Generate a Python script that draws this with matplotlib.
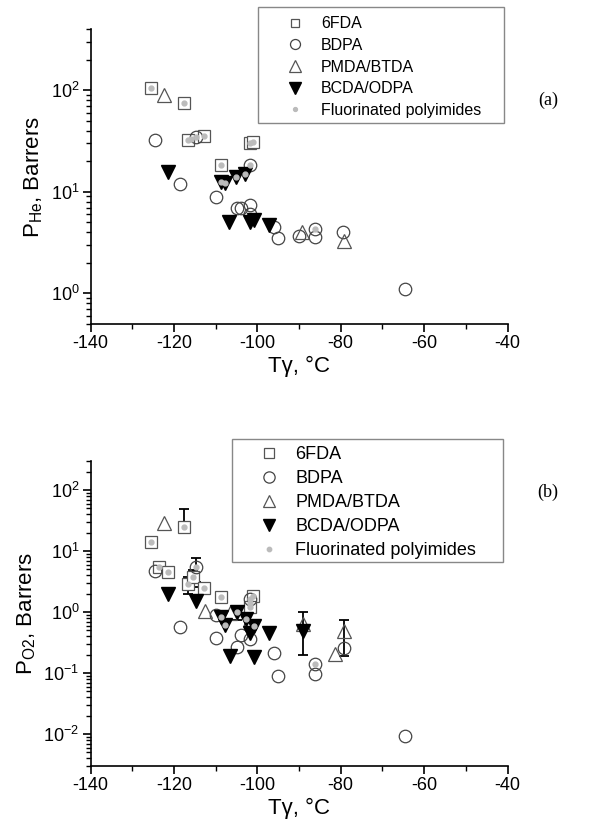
import matplotlib
matplotlib.use("Agg")
import matplotlib.pyplot as plt
from matplotlib.patches import Rectangle
import numpy as np

plt.rcParams['font.family'] = ['Liberation Sans', 'DejaVu Sans']
plt.rcParams['mathtext.fontset'] = 'custom'
plt.rcParams['mathtext.rm'] = 'Liberation Sans'
plt.rcParams['mathtext.it'] = 'Liberation Sans:italic'
plt.rcParams['axes.unicode_minus'] = False

# ---- (a) P_He vs Tgamma ----
a_6fda_x = [-125.5, -117.6, -116.6, -112.7, -101.8, -101.0, -108.8]
a_6fda_y = [106, 75.5, 32.7, 35.8, 29.9, 31.0, 18.5]

a_bdpa_x = [-124.6, -114.8, -101.8, -118.6, -109.8, -104.8, -103.8, -101.8, -101.8,
            -95.9, -95.0, -90.1, -86.2, -86.2, -79.4, -64.7]
a_bdpa_y = [32, 34.8, 18.5, 11.9, 8.86, 7.0, 7.0, 7.43, 6.0,
            4.54, 3.53, 3.67, 4.3, 3.6, 4.05, 1.1]

a_pmda_x = [-122.4, -89.2, -79.3]
a_pmda_y = [89.9, 4.05, 3.3]

a_bcda_x = [-121.5, -108.7, -107.8, -105.0, -103.0, -106.7, -101.8, -100.9, -97.1]
a_bcda_y = [15.7, 12.5, 12.2, 13.9, 15.1, 5.08, 5.08, 5.28, 4.71]

a_fluor_x = a_6fda_x + [-114.8, -101.8, -86.2] + [-108.7, -107.8, -105.0, -103.0] + [-116.0]
a_fluor_y = a_6fda_y + [34.8, 18.5, 4.3] + [12.5, 12.2, 13.9, 15.1] + [33.0]

# ---- (b) P_O2 vs Tgamma ----
b_6fda_x = [-117.6, -125.4, -123.6, -121.5, -116.6, -115.5, -112.7, -108.8, -101.0, -101.8]
b_6fda_y = [25, 14.2, 5.4, 4.5, 2.88, 3.79, 2.5, 1.74, 1.83, 1.19]

b_bdpa_x = [-124.6, -114.7, -101.8, -118.6, -109.8, -109.8, -104.8, -103.8, -101.8, -101.8,
            -96.0, -95.0, -86.2, -86.2, -79.3, -64.7]
b_bdpa_y = [4.75, 5.4, 1.63, 0.575, 0.89, 0.37, 0.264, 0.42, 0.6, 0.356,
            0.21, 0.091, 0.14, 0.095, 0.254, 0.0093]

b_pmda_x = [-122.4, -112.5, -106.6, -89.0, -79.3, -81.3]
b_pmda_y = [28.5, 1.04, 0.95, 0.64, 0.49, 0.205]

b_bcda_x = [-121.5, -114.7, -108.7, -107.8, -104.8, -102.8, -101.8, -97.1, -106.6, -100.8, -89.0, -100.8]
b_bcda_y = [1.95, 1.53, 0.84, 0.61, 1.0, 0.76, 0.46, 0.45, 0.19, 0.185, 0.49, 0.6]

b_fluor_x = b_6fda_x + [-114.7, -101.8, -101.8, -86.2] + [-108.7, -107.8, -104.8, -102.8, -100.8]
b_fluor_y = b_6fda_y + [5.4, 1.63, 1.4, 0.14] + [0.84, 0.61, 1.0, 0.76, 0.6]

# error bars (x, y, lower end, upper end)
b_err_x = [-117.6, -116.6, -115.5, -114.7, -104.8, -89.0, -79.3]
b_err_y = [25, 2.88, 3.79, 5.4, 1.0, 0.49, 0.49]
b_err_lo = [24, 1.97, 2.6, 3.1, 0.75, 0.2, 0.19]
b_err_hi = [49, 3.8, 4.88, 7.6, 1.1, 1.0, 0.74]

labels = ['6FDA', 'BDPA', 'PMDA/BTDA', 'BCDA/ODPA', 'Fluorinated polyimides']


def draw(ax, s6, sb, sp, sc, sf):
    ax.plot(*s6, ls='none', marker='s', ms=8, mfc='white', mec='#555555', mew=0.9, label=labels[0])
    ax.plot(*sb, ls='none', marker='o', ms=9, mfc='none', mec='#444444', mew=0.9, label=labels[1])
    ax.plot(*sp, ls='none', marker='^', ms=10, mfc='none', mec='#555555', mew=0.9, label=labels[2])
    ax.plot(*sc, ls='none', marker='v', ms=10, mfc='black', mec='black', label=labels[3])
    ax.plot(*sf, ls='none', marker='o', ms=3.5, mfc='#bbbbbb', mec='#bbbbbb', label=labels[4])


W, H = 589, 838
fig = plt.figure(figsize=[W / 100, H / 100], dpi=100)
ax1 = fig.add_axes([90.5 / W, 1 - 324 / H, 417 / W, 295 / H])
ax2 = fig.add_axes([90.5 / W, 1 - 766 / H, 417 / W, 305 / H])

draw(ax1, (a_6fda_x, a_6fda_y), (a_bdpa_x, a_bdpa_y), (a_pmda_x, a_pmda_y),
     (a_bcda_x, a_bcda_y), (a_fluor_x, a_fluor_y))

yl = np.array(b_err_y) - np.array(b_err_lo)
yh = np.array(b_err_hi) - np.array(b_err_y)
ax2.errorbar(b_err_x, b_err_y, yerr=[yl, yh], fmt='none', ecolor='black',
             elinewidth=1.3, capsize=3.5, capthick=1.3, zorder=1)
draw(ax2, (b_6fda_x, b_6fda_y), (b_bdpa_x, b_bdpa_y), (b_pmda_x, b_pmda_y),
     (b_bcda_x, b_bcda_y), (b_fluor_x, b_fluor_y))

for ax, ylim in [(ax1, (0.5, 400)), (ax2, (0.003, 300))]:
    ax.set_yscale('log')
    ax.set_ylim(*ylim)
    ax.set_xlim(-140, -40)
    ax.set_xticks(np.arange(-140, -39, 20))
    ax.set_xticks(np.arange(-130, -40, 20), minor=True)
    ax.spines['top'].set_visible(False)
    ax.spines['right'].set_visible(False)
    ax.spines['left'].set_linewidth(1.2)
    ax.spines['bottom'].set_linewidth(1.2)
    ax.tick_params(which='major', direction='out', length=6, width=1.2, labelsize=13, pad=2)
    ax.tick_params(which='minor', direction='out', length=3.5, width=1)
    ax.set_xlabel('T\u03b3, \u00b0C', fontsize=16, labelpad=3)

ax1.set_ylabel(r'P$_{\mathrm{He}}$, Barrers', fontsize=16, labelpad=4)
ax2.set_ylabel(r'P$_{\mathrm{O2}}$, Barrers', fontsize=16, labelpad=4)

# legend frames drawn as plain boxes, legends without their own frame
for (x0, y0, x1, y1) in [(258, 7, 504, 123), (232, 439, 503, 562)]:
    fig.patches.append(Rectangle((x0 / W, 1 - y1 / H), (x1 - x0) / W, (y1 - y0) / H,
                                 transform=fig.transFigure, fill=False,
                                 edgecolor='#888888', linewidth=1.0))

ax1.legend(loc='upper left', bbox_to_anchor=(287.5 / W, 1 - 16.5 / H), bbox_transform=fig.transFigure,
           fontsize=11.5, frameon=False, handlelength=1.0, handletextpad=1.1,
           labelspacing=0.41, borderpad=0, borderaxespad=0, markerscale=0.8)
ax2.legend(loc='upper left', bbox_to_anchor=(260 / W, 1 - 446 / H), bbox_transform=fig.transFigure,
           fontsize=13, frameon=False, handlelength=1.0, handletextpad=0.95,
           labelspacing=0.39, borderpad=0, borderaxespad=0, markerscale=0.9)

fig.text(548 / W, 1 - 100 / H, '(a)', fontsize=13, fontfamily='Liberation Serif', ha='center', va='center')
fig.text(548 / W, 1 - 492 / H, '(b)', fontsize=13, fontfamily='Liberation Serif', ha='center', va='center')

fig.savefig('out.png', dpi=100)
